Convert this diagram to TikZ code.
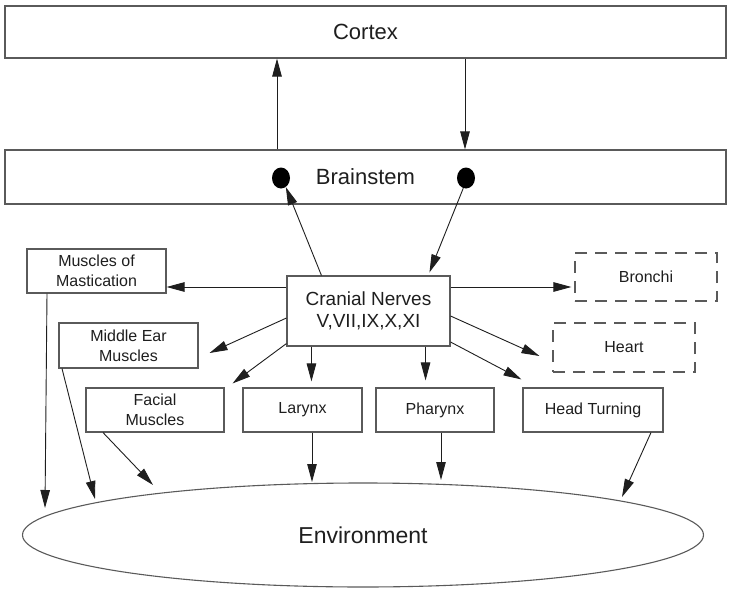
\documentclass[tikz,border=0pt]{standalone}
\usepackage{fontspec}
\setmainfont{Liberation Sans}
\usetikzlibrary{arrows.meta,shapes.geometric,calc}
\definecolor{ink}{HTML}{1E1E1E}
\definecolor{boxline}{HTML}{5A5A5A}
\tikzset{
  box/.style={draw=boxline,line width=1.1pt,rectangle,inner sep=0pt,align=center,text=ink,font=\fontsize{16}{20}\selectfont},
  dbox/.style={box,dash pattern=on 12pt off 8pt},
  big/.style={font=\fontsize{22}{26}\selectfont},
  arr/.style={draw=ink,line width=0.9pt,-{Triangle[length=18pt,width=9.5pt]}},
  dot/.style={ellipse,fill=black,inner sep=0pt,minimum width=18pt,minimum height=21pt}
}
\begin{document}
\begin{tikzpicture}[x=1pt,y=-1pt]
\useasboundingbox (0,0) rectangle (729,589);
% main boxes
\node[box,big,minimum width=721pt,minimum height=52pt] (cortex) at (365.5,32) {Cortex};
\node[box,big,minimum width=721pt,minimum height=54pt] (brain) at (365.5,177) {Brainstem};
\node[dot] (dl) at (281,178) {};
\node[dot] (dr) at (466,178) {};
% cranial nerves
\node[box,font=\fontsize{19}{22}\selectfont,minimum width=163pt,minimum height=70pt] (cn) at (368.5,311) {Cranial Nerves\\V,VII,IX,X,XI};
% targets
\node[box,minimum width=139pt,minimum height=44pt] (mast) at (96.5,271) {Muscles of\\Mastication};
\node[dbox,minimum width=142pt,minimum height=48pt] (bron) at (646,277) {Bronchi};
\node[box,minimum width=139pt,minimum height=45pt] (mid) at (128.5,345.5) {Middle Ear\\Muscles};
\node[dbox,minimum width=142pt,minimum height=49pt] (heart) at (624,347.5) {Heart};
\node[box,minimum width=138pt,minimum height=44pt] (fac) at (155,410) {Facial\\Muscles};
\node[box,minimum width=119pt,minimum height=44pt] (lar) at (302.5,410) {Larynx};
\node[box,minimum width=118pt,minimum height=44pt] (pha) at (435,410) {Pharynx};
\node[box,minimum width=140pt,minimum height=44pt] (head) at (593,410) {Head Turning};
% environment
\node[draw=boxline,line width=1.1pt,ellipse,inner sep=0pt,minimum width=681pt,minimum height=104pt,text=ink,font=\fontsize{23}{27}\selectfont] (env) at (363,535) {Environment};
% cortex <-> brainstem
\coordinate (ux) at (277,0);
\coordinate (dx) at (465,0);
\draw[arr] (brain.north -| ux) -- (cortex.south -| ux);
\draw[arr] (cortex.south -| dx) -- (brain.north -| dx);
% brainstem <-> cranial
\draw[arr] ([xshift=35pt]cn.north west) -- (dl.-62);
\draw[arr] (dr.-105) -- ([xshift=143pt,yshift=3pt]cn.north west);
% cranial -> targets
\draw[arr] ([yshift=24pt]cn.west) -- ([yshift=24pt]cn.west -| mast.east);
\draw[arr] ([yshift=24pt]cn.east) -- ([xshift=-3pt,yshift=24pt]cn.east -| bron.west);
\draw[arr] ([yshift=-7pt]cn.west) -- ([xshift=11pt,yshift=-7.5pt]mid.east);
\draw[arr] ([yshift=-5pt]cn.east) -- ([xshift=-13pt,yshift=-8.5pt]heart.west);
\draw[arr] ([yshift=3pt]cn.south west) -- ([xshift=8pt,yshift=4pt]fac.north east);
\draw[arr] ([xshift=25pt]cn.south west) -- ([xshift=25pt,yshift=6pt]cn.south west |- lar.north);
\draw[arr] ([xshift=-25pt]cn.south east) -- ([xshift=-25pt,yshift=7pt]cn.south east |- pha.north);
\draw[arr] ([yshift=-31pt]cn.east) -- ([xshift=-1pt,yshift=8pt]head.north west);
% targets -> environment
\coordinate (e1) at (45,508);
\coordinate (e2) at (95,499);
\coordinate (e3) at (153,485);
\coordinate (e4) at (312,482);
\coordinate (e5) at (441,480);
\coordinate (e6) at (622,497);
\draw[arr] ([xshift=-49.5pt]mast.south) -- (e1);
\draw[arr] ([xshift=-66.5pt]mid.south) -- (e2);
\draw[arr] ([xshift=-52pt]fac.south) -- (e3);
\draw[arr] (lar.south -| e4) -- (e4);
\draw[arr] (pha.south -| e5) -- (e5);
\draw[arr] ([xshift=58pt]head.south) -- (e6);
\end{tikzpicture}
\end{document}
